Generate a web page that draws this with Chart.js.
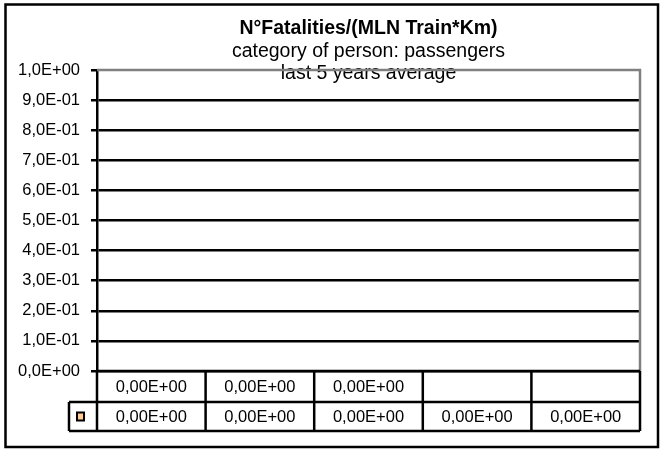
<!DOCTYPE html>
<html><head><meta charset="utf-8">
<script src="https://cdn.jsdelivr.net/npm/chart.js@4/dist/chart.umd.min.js"></script>
<style>html,body{margin:0;padding:0;background:#fff}#wrap{width:660px;height:450px;position:relative}</style>
</head><body><div id="wrap"><canvas id="c" width="660" height="450"></canvas></div>
<script>
// ---- data ----
const categories = ['Y1', 'Y2', 'Y3', 'Y4', 'Y5'];
const seriesA = [0, 0, 0, null, null];      // first table row (no legend key)
const seriesB = [0, 0, 0, 0, 0];            // second table row (with legend key)
const yTickValues = [0, 0.1, 0.2, 0.3, 0.4, 0.5, 0.6, 0.7, 0.8, 0.9, 1.0];
const titleText = 'N°Fatalities/(MLN Train*Km)';
const subtitleLines = ['category of person: passengers', 'last 5 years average'];

const FONT = '"Liberation Sans", Arial, sans-serif';

function sci(v, digits) {
  if (v === null || v === undefined) return '';
  if (v === 0) return (0).toFixed(digits).replace('.', ',') + 'E+00';
  let e = Math.floor(Math.log10(Math.abs(v)) + 1e-9);
  let m = v / Math.pow(10, e);
  let ms = m.toFixed(digits);
  if (parseFloat(ms) >= 10) { e += 1; ms = (v / Math.pow(10, e)).toFixed(digits); }
  const es = (e < 0 ? '-' : '+') + String(Math.abs(e)).padStart(2, '0');
  return ms.replace('.', ',') + 'E' + es;
}

const tablePlugin = {
  id: 'tablePlugin',
  afterDraw(chart) {
    const ctx = chart.ctx;
    const ca = chart.chartArea;
    const xs = chart.scales.x;
    ctx.save();
    // outer frame
    ctx.strokeStyle = '#000';
    ctx.lineWidth = 2.5;
    ctx.strokeRect(5.5, 4.5, 652.5, 442.5);

    // title
    const cx = (ca.left + ca.right) / 2;
    ctx.fillStyle = '#000';
    ctx.textAlign = 'center';
    ctx.textBaseline = 'middle';
    ctx.font = 'bold 19.5px ' + FONT;
    ctx.fillText(titleText, cx, 29);
    ctx.font = '19.5px ' + FONT;
    ctx.fillText(subtitleLines[0], cx, 52);
    ctx.fillText(subtitleLines[1], cx, 74);

    // plot border (gray top and right)
    ctx.strokeStyle = '#808080';
    ctx.lineWidth = 2.5;
    ctx.beginPath();
    ctx.moveTo(ca.left, ca.top);
    ctx.lineTo(ca.right, ca.top);
    ctx.lineTo(ca.right, ca.bottom);
    ctx.stroke();

    // data table
    const n = categories.length;
    const centers = categories.map((c, i) => xs.getPixelForValue(i));
    const step = n > 1 ? centers[1] - centers[0] : (ca.right - ca.left);
    const bounds = [centers[0] - step / 2];
    for (let i = 0; i < n; i++) bounds.push(centers[i] + step / 2);
    const y0 = ca.bottom, y1 = y0 + 31, y2 = y1 + 29;
    const keyLeft = bounds[0] - 28;

    ctx.strokeStyle = '#000';
    ctx.lineWidth = 2.5;
    ctx.beginPath();
    ctx.moveTo(bounds[0], y0); ctx.lineTo(bounds[n], y0);
    ctx.moveTo(keyLeft, y1); ctx.lineTo(bounds[n], y1);
    ctx.moveTo(keyLeft, y2); ctx.lineTo(bounds[n], y2);
    bounds.forEach(b => { ctx.moveTo(b, y0); ctx.lineTo(b, y2); });
    ctx.moveTo(keyLeft, y1); ctx.lineTo(keyLeft, y2);
    ctx.stroke();

    ctx.font = '16.5px ' + FONT;
    ctx.fillStyle = '#000';
    for (let i = 0; i < n; i++) {
      ctx.fillText(sci(seriesA[i], 2), centers[i], (y0 + y1) / 2 + 1);
      ctx.fillText(sci(seriesB[i], 2), centers[i], (y1 + y2) / 2 + 1);
    }
    // legend key
    const kx = keyLeft + 8, ky = (y1 + y2) / 2 - 4;
    ctx.fillStyle = '#FFCC99';
    ctx.fillRect(kx, ky, 7, 8);
    ctx.strokeStyle = '#000';
    ctx.lineWidth = 2;
    ctx.strokeRect(kx, ky, 7, 8);
    ctx.restore();
  }
};

new Chart(document.getElementById('c'), {
  type: 'bar',
  data: {
    labels: categories,
    datasets: [
      { label: 'row1', data: seriesA, backgroundColor: 'rgba(0,0,0,0)', borderWidth: 0 },
      { label: 'passengers', data: seriesB, backgroundColor: '#FFCC99', borderColor: '#000', borderWidth: 0 }
    ]
  },
  options: {
    responsive: false,
    animation: false,
    devicePixelRatio: 1,
    layout: { padding: { left: 0, right: 20, top: 70, bottom: 79 } },
    plugins: { legend: { display: false }, title: { display: false }, tooltip: { enabled: false } },
    scales: {
      x: { display: false, offset: true },
      y: {
        min: 0, max: 1,
        afterFit(s) { s.width = 97; },
        afterBuildTicks(s) { s.ticks = yTickValues.map(v => ({ value: v })); },
        ticks: {
          callback: v => sci(v, 1),
          font: { family: FONT, size: 16.5 },
          color: '#000',
          padding: 11
        },
        grid: {
          color: c => (c.tick && c.tick.value >= 1) ? 'rgba(0,0,0,0)' : '#000',
          lineWidth: 2.5,
          tickLength: 6,
          tickColor: '#000'
        },
        border: { display: true, color: '#000', width: 2.5 }
      }
    }
  },
  plugins: [tablePlugin]
});
</script>
</body></html>
